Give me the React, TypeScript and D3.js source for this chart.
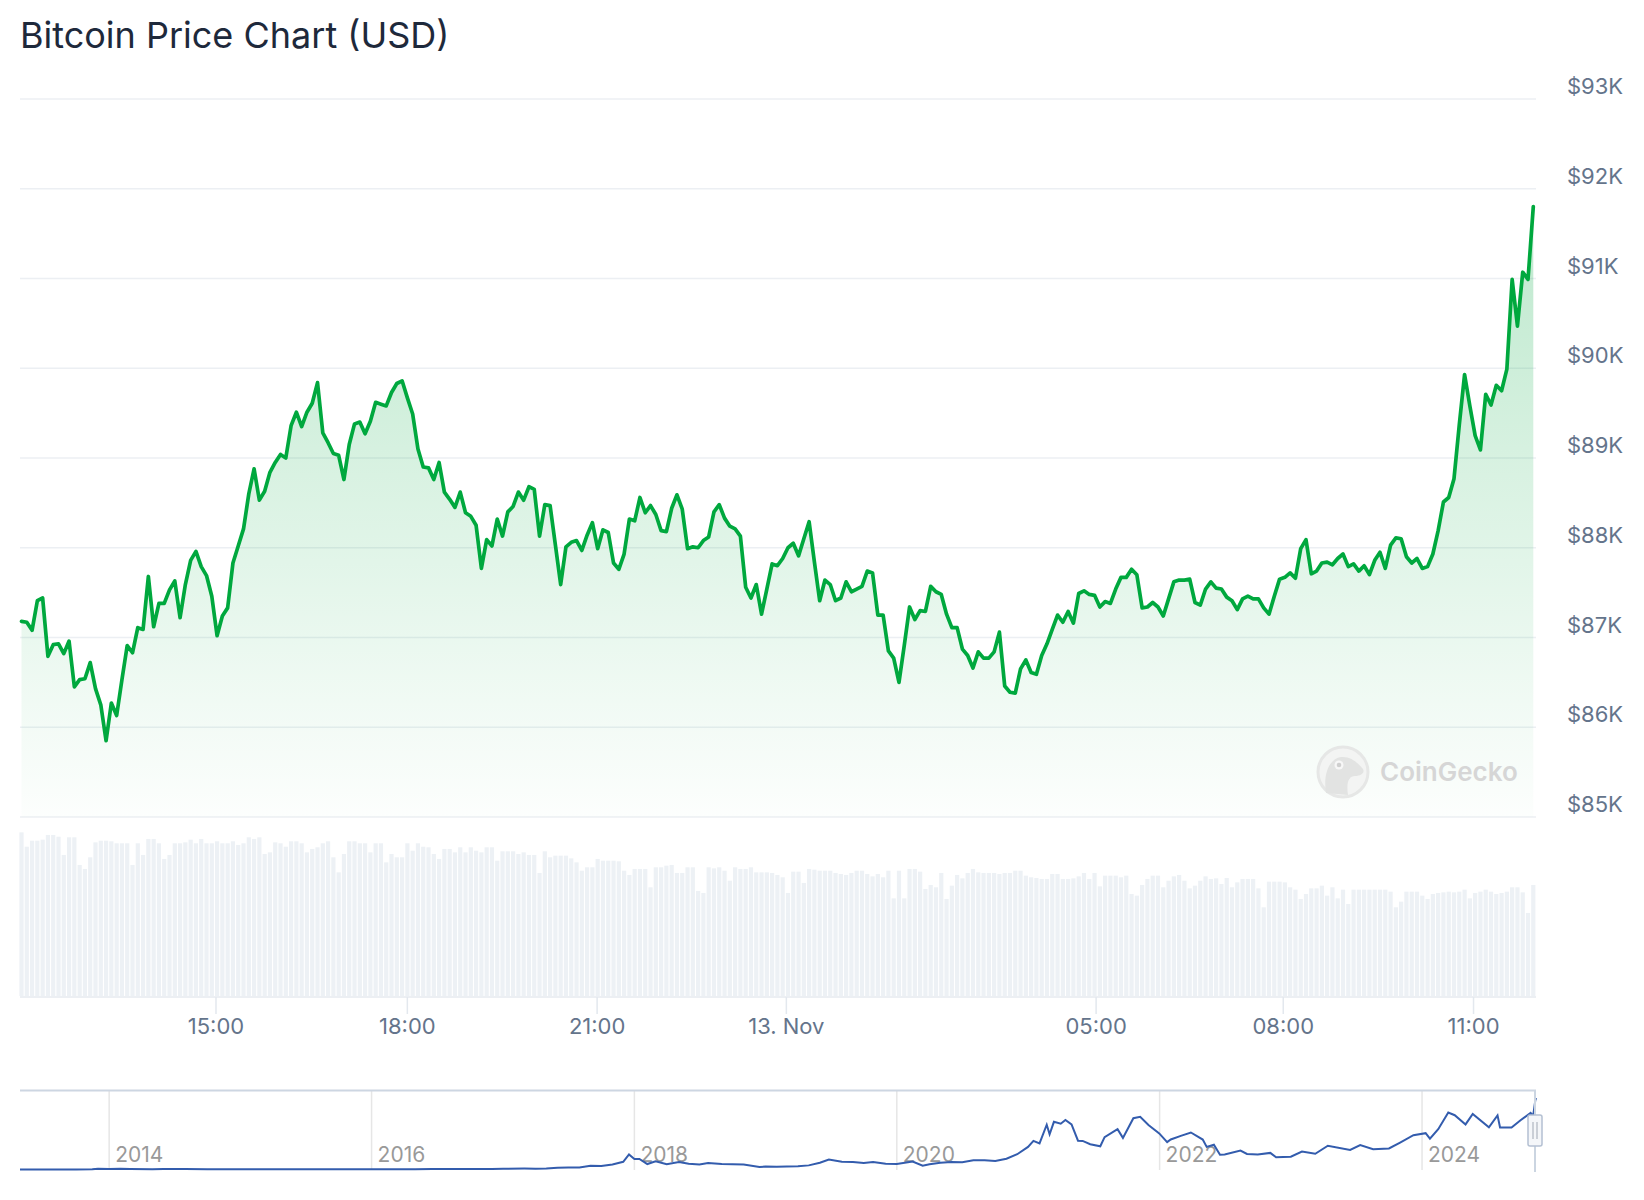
import React, { useRef, useEffect } from 'react';
import * as d3 from 'd3';

// BTC price in USD thousands, one point about every 5 minutes (12 Nov ~11:55 -> 13 Nov ~11:57)
const prices = [
  87.18, 87.17, 87.08, 87.41, 87.44, 86.79, 86.92, 86.93, 86.82, 86.96,
  86.45, 86.53, 86.54, 86.72, 86.43, 86.25, 85.85, 86.27, 86.13, 86.53,
  86.91, 86.83, 87.11, 87.09, 87.68, 87.12, 87.38, 87.38, 87.53, 87.63,
  87.22, 87.59, 87.86, 87.96, 87.79, 87.69, 87.46, 87.02, 87.24, 87.33,
  87.83, 88.02, 88.21, 88.60, 88.88, 88.53, 88.63, 88.84, 88.95, 89.04,
  89.00, 89.36, 89.51, 89.35, 89.51, 89.61, 89.84, 89.28, 89.17, 89.05,
  89.03, 88.76, 89.15, 89.38, 89.40, 89.27, 89.41, 89.62, 89.60, 89.58,
  89.73, 89.83, 89.86, 89.67, 89.49, 89.10, 88.90, 88.89, 88.76, 88.95,
  88.62, 88.54, 88.45, 88.62, 88.39, 88.35, 88.25, 87.77, 88.09, 88.02,
  88.32, 88.13, 88.40, 88.46, 88.62, 88.53, 88.68, 88.65, 88.13, 88.48,
  88.47, 88.03, 87.59, 88.01, 88.06, 88.08, 87.97, 88.14, 88.28, 87.99,
  88.20, 88.17, 87.83, 87.76, 87.93, 88.32, 88.30, 88.56, 88.39, 88.47,
  88.37, 88.19, 88.18, 88.44, 88.59, 88.43, 87.99, 88.01, 88.00, 88.08,
  88.12, 88.40, 88.48, 88.33, 88.24, 88.21, 88.13, 87.56, 87.44, 87.59,
  87.26, 87.54, 87.82, 87.80, 87.88, 88.00, 88.05, 87.91, 88.10, 88.29,
  87.84, 87.41, 87.64, 87.59, 87.41, 87.44, 87.62, 87.51, 87.54, 87.57,
  87.74, 87.72, 87.25, 87.25, 86.85, 86.77, 86.50, 86.91, 87.34, 87.20,
  87.30, 87.29, 87.57, 87.51, 87.48, 87.26, 87.11, 87.11, 86.87,
  86.80, 86.66, 86.84, 86.77, 86.77, 86.84, 87.06, 86.46, 86.39, 86.38,
  86.65, 86.75, 86.61, 86.59, 86.80, 86.93, 87.09, 87.25, 87.17, 87.29,
  87.16, 87.49, 87.52, 87.48, 87.47, 87.34, 87.40, 87.38, 87.54, 87.67,
  87.67, 87.76, 87.70, 87.33, 87.34, 87.39, 87.34, 87.24, 87.43, 87.62,
  87.64, 87.64, 87.65, 87.39, 87.36, 87.54, 87.62, 87.55, 87.54, 87.45,
  87.41, 87.31, 87.43, 87.46, 87.43, 87.43, 87.33, 87.26, 87.46, 87.65,
  87.67, 87.72, 87.66, 87.99, 88.09, 87.71, 87.74, 87.83, 87.84, 87.81,
  87.88, 87.93, 87.79, 87.82, 87.74, 87.80, 87.70, 87.86, 87.95, 87.77,
  88.03, 88.11, 88.10, 87.90, 87.83, 87.88, 87.77, 87.79, 87.93, 88.19,
  88.51, 88.56, 88.77,
  89.37, 89.93, 89.58, 89.25, 89.09, 89.71, 89.59, 89.81, 89.75, 89.99,
  90.99, 90.47, 91.07, 90.99, 91.80,
];

// 24h trading volume, USD billions, one bar per price point
const volumes = [
  139.1, 126.9, 132.0, 132.0, 132.9, 136.9, 136.9, 135.4, 119.9, 134.9,
  134.9, 111.4, 108.0, 117.9, 130.6, 132.0, 132.0, 131.5, 129.8, 129.8,
  129.8, 111.4, 129.8, 119.9, 133.5, 133.5, 129.8, 116.5, 119.9, 129.8,
  129.8, 130.6, 132.9, 129.8, 133.5, 129.8, 129.8, 131.5, 129.8, 129.8,
  131.5, 128.4, 129.8, 134.9, 133.5, 134.9, 120.7, 122.1, 130.6, 129.8,
  126.9, 131.5, 131.5, 129.8, 122.1, 125.0, 126.4, 129.8, 131.5, 117.9,
  105.1, 120.7, 131.5, 131.5, 129.8, 129.8, 122.1, 129.8, 129.8, 113.6,
  120.7, 117.9, 117.9, 129.8, 123.5, 129.8, 126.9, 126.4, 120.7, 116.5,
  125.0, 125.0, 122.1, 126.4, 122.1, 126.4, 123.5, 122.1, 126.4, 126.4,
  115.0, 123.0, 123.0, 123.0, 120.7, 122.1, 119.9, 119.9, 104.6, 123.0,
  117.9, 119.3, 119.3, 119.3, 117.0, 113.6, 106.5, 109.4, 109.4, 116.5,
  115.0, 115.0, 115.0, 114.5, 106.5, 102.9, 108.0, 108.0, 108.0, 92.4,
  109.4, 109.4, 110.8, 111.4, 104.6, 104.6, 109.4, 109.4, 89.3, 87.6,
  109.4, 108.5, 109.4, 106.5, 98.0, 109.4, 108.0, 108.0, 109.4, 105.1,
  105.1, 105.1, 104.6, 102.9, 100.9, 87.6, 105.7, 105.7, 96.1, 108.0,
  107.4, 106.5, 106.5,
  106.5, 104.6, 103.7, 102.9, 104.6, 106.5, 106.5, 103.7, 101.7, 103.7,
  100.9, 106.5, 83.0, 106.5, 83.0, 108.0, 108.0, 105.7, 91.0, 94.4,
  92.4, 104.6, 82.5, 93.8, 102.9, 100.0, 104.6, 108.0, 105.1, 104.6,
  104.6, 104.6, 103.7, 104.6, 104.6, 106.5, 106.5, 102.3, 100.9, 100.3,
  99.5, 99.5, 103.7, 103.7, 99.5, 99.5, 100.0, 101.7, 104.6, 99.5,
  104.6, 93.2, 102.3, 102.3, 102.3, 100.9, 102.3, 86.7, 85.3, 94.4,
  99.5, 102.3, 102.3, 92.4, 98.0, 101.7, 102.9, 98.0, 91.5, 93.8,
  98.0, 101.7, 99.5, 100.0, 95.2, 100.3, 92.4, 96.6, 99.5, 99.5,
  99.5, 91.5, 75.4, 97.2, 97.2, 97.2, 96.6, 92.4, 90.4, 82.5,
  86.7, 91.5, 91.5, 93.8, 85.3, 92.4, 83.0, 90.4, 78.2, 90.4,
  90.4, 90.4, 90.4, 90.4, 90.4, 90.4, 88.7, 75.4,
  80.2, 88.7, 88.7, 88.7, 85.3, 82.5, 86.7, 87.6, 88.1, 88.7,
  88.1, 88.7, 90.4, 83.0, 87.6, 88.7, 90.4, 88.7, 86.7, 87.6,
  88.7, 92.4, 92.4, 88.1, 70.6, 94.4,
];

// x axis labels and the (ordinal) point index they sit at
const xTickLabels = ['15:00', '18:00', '21:00', '13. Nov', '05:00', '08:00', '11:00'];
const xTickIndex = [36.7, 72.9, 108.8, 144.6, 203.2, 238.6, 274.6];
const yTicks = [85, 86, 87, 88, 89, 90, 91, 92, 93];

// navigator: full price history, USD thousands
const navDates = [
  '2013-04-28', '2013-06-01', '2013-08-01', '2013-10-01', '2013-11-15', '2013-12-01',
  '2014-01-01', '2014-02-01', '2014-03-01', '2014-05-01', '2014-06-01', '2014-08-01',
  '2014-10-01', '2014-12-01', '2015-01-15', '2015-03-01', '2015-06-01', '2015-07-15',
  '2015-09-01', '2015-11-05', '2016-01-01', '2016-03-01', '2016-05-01', '2016-06-17',
  '2016-08-01', '2016-10-01', '2016-12-01', '2017-01-01', '2017-03-01', '2017-04-01',
  '2017-05-01', '2017-06-01', '2017-07-01', '2017-08-01', '2017-09-01', '2017-10-01',
  '2017-11-01', '2017-12-01', '2017-12-17', '2018-01-01', '2018-01-15', '2018-02-06',
  '2018-03-01', '2018-04-01', '2018-05-05', '2018-06-01', '2018-07-01', '2018-07-25',
  '2018-09-01', '2018-10-01', '2018-11-01', '2018-12-15', '2019-01-01', '2019-02-01',
  '2019-03-01', '2019-04-01', '2019-05-01', '2019-06-01', '2019-06-26', '2019-08-01',
  '2019-09-01', '2019-10-01', '2019-10-27', '2019-12-01', '2020-01-01', '2020-02-14',
  '2020-03-13', '2020-04-01', '2020-05-01', '2020-06-01', '2020-07-01', '2020-08-01',
  '2020-09-01', '2020-10-01', '2020-11-01', '2020-12-01', '2020-12-31', '2021-01-15',
  '2021-02-01', '2021-02-21', '2021-03-01', '2021-03-13', '2021-04-01', '2021-04-14',
  '2021-05-01', '2021-05-19', '2021-06-01', '2021-06-22', '2021-07-20', '2021-08-01',
  '2021-09-06', '2021-09-21', '2021-10-20', '2021-11-08', '2021-12-01', '2021-12-31',
  '2022-01-22', '2022-02-01', '2022-03-01', '2022-03-29', '2022-05-01', '2022-05-12',
  '2022-06-01', '2022-06-18', '2022-07-01', '2022-08-14', '2022-09-01', '2022-10-01',
  '2022-11-05', '2022-11-21', '2023-01-01', '2023-02-01', '2023-03-10', '2023-04-14',
  '2023-06-15', '2023-07-13', '2023-08-18', '2023-10-01', '2023-11-01', '2023-12-08',
  '2024-01-11', '2024-01-23', '2024-02-15', '2024-03-14', '2024-04-01', '2024-05-01',
  '2024-05-21', '2024-07-05', '2024-07-29', '2024-08-05', '2024-09-06', '2024-10-01',
  '2024-10-29', '2024-11-05', '2024-11-11', '2024-11-13',
];
const navPrices = [
  0.13, 0.12, 0.10, 0.13, 0.42, 1.0,
  0.75, 0.83, 0.56, 0.45, 0.63, 0.59,
  0.39, 0.38, 0.20, 0.25, 0.23, 0.29,
  0.23, 0.40, 0.43, 0.43, 0.45, 0.76,
  0.62, 0.61, 0.75, 0.99, 1.19, 1.08,
  1.42, 2.40, 2.48, 2.71, 4.70, 4.40,
  6.40, 9.90, 19.3, 13.4, 13.6, 7.0,
  10.4, 6.9, 9.7, 7.5, 6.4, 8.2,
  7.0, 6.6, 6.3, 3.2, 3.7, 3.4,
  3.8, 4.1, 5.3, 8.6, 12.9, 10.0,
  9.6, 8.3, 9.5, 7.4, 7.2, 10.3,
  4.9, 6.6, 8.8, 9.5, 9.2, 11.8,
  11.9, 10.8, 13.8, 19.6, 29.0, 36.8,
  33.5, 57.5, 45.2, 61.2, 58.8, 63.5,
  57.8, 37.0, 36.7, 32.5, 29.8, 41.5,
  51.8, 40.6, 65.9, 67.6, 57.2, 46.3,
  35.1, 38.5, 43.2, 47.5, 38.5, 29.0,
  31.8, 19.0, 19.3, 24.4, 20.0, 19.4,
  21.3, 15.8, 16.5, 23.1, 20.2, 30.5,
  25.1, 31.4, 26.1, 27.0, 34.6, 44.0,
  46.6, 39.5, 51.8, 73.1, 69.7, 57.9,
  71.4, 54.2, 69.5, 53.9, 53.9, 63.3,
  72.7, 68.4, 88.7, 91.8,
];
const navYears = [2014, 2016, 2018, 2020, 2022, 2024];

function App() {
  const ref = useRef<SVGSVGElement>(null);

  useEffect(() => {
    document.body.style.margin = '0';
    const svg = d3.select(ref.current);
    svg.selectAll('*').remove();

    const left = 20, right = 1536;
    const priceTop = 99, priceBottom = 817;
    const volBottom = 997;

    // title
    svg.append('text')
      .attr('x', 20).attr('y', 48)
      .attr('font-size', 36)
      .attr('fill', '#1e293b')
      .text('Bitcoin Price Chart (USD)');

    const x = d3.scaleLinear().domain([0, prices.length - 1]).range([21.5, 1533.3]);
    const y = d3.scaleLinear().domain([85, 93]).range([priceBottom, priceTop]);
    const yv = d3.scaleLinear().domain([0, 140]).range([volBottom - 1, volBottom - 1 - 140 / 0.85]);

    // volume bars
    svg.append('g')
      .selectAll('rect')
      .data(volumes)
      .join('rect')
        .attr('x', (d, i) => x(i) - 2.1)
        .attr('width', 4.2)
        .attr('y', d => yv(d))
        .attr('height', d => yv(0) - yv(d))
        .attr('fill', '#edf1f5');

    // grid lines + price labels
    svg.append('g')
      .selectAll('line')
      .data(yTicks)
      .join('line')
        .attr('x1', left).attr('x2', right)
        .attr('y1', d => y(d)).attr('y2', d => y(d))
        .attr('stroke', '#eceff3')
        .attr('stroke-width', 1.5);

    svg.append('g')
      .selectAll('text')
      .data(yTicks)
      .join('text')
        .attr('x', 1567)
        .attr('y', d => y(d) - 5)
        .attr('font-size', 22)
        .attr('fill', '#64748b')
        .text(d => `$${d}K`);

    // area gradient
    const grad = svg.append('defs').append('linearGradient')
      .attr('id', 'areaGrad')
      .attr('x1', 0).attr('y1', 0).attr('x2', 0).attr('y2', 1);
    grad.append('stop').attr('offset', 0).attr('stop-color', '#00a83e').attr('stop-opacity', 0.26);
    grad.append('stop').attr('offset', 1).attr('stop-color', '#00a83e').attr('stop-opacity', 0.01);

    const area = d3.area<number>()
      .x((d, i) => x(i))
      .y0(y(85))
      .y1(d => y(d));
    const line = d3.line<number>()
      .x((d, i) => x(i))
      .y(d => y(d));

    svg.append('path')
      .datum(prices)
      .attr('d', area)
      .attr('fill', 'url(#areaGrad)');

    // watermark
    const wm = svg.append('g').attr('transform', 'translate(1343,772)');
    wm.append('circle').attr('r', 25).attr('fill', '#f3f4f3').attr('stroke', '#e6e7e6').attr('stroke-width', 3);
    wm.append('path')
      .attr('d', 'M -17 21 C -20 2 -14 -13 -2 -15 C 8 -16 15 -9 20 -3 C 22 1 18 4 12 4 C 6 4 3 10 5 23 Z')
      .attr('fill', '#e2e3e2');
    wm.append('circle').attr('cx', -4).attr('cy', -7).attr('r', 4.5).attr('fill', '#f7f7f7');
    wm.append('circle').attr('cx', -4).attr('cy', -7).attr('r', 2.3).attr('fill', '#cfcfcf');
    svg.append('text')
      .attr('x', 1380).attr('y', 781)
      .attr('font-size', 26)
      .attr('font-weight', 600)
      .attr('fill', '#d6d6d6')
      .text('CoinGecko');

    svg.append('path')
      .datum(prices)
      .attr('d', line)
      .attr('fill', 'none')
      .attr('stroke', '#00a83e')
      .attr('stroke-width', 3.7)
      .attr('stroke-linejoin', 'round')
      .attr('stroke-linecap', 'round');

    // x axis
    svg.append('line')
      .attr('x1', left).attr('x2', right)
      .attr('y1', volBottom).attr('y2', volBottom)
      .attr('stroke', '#e6eaef')
      .attr('stroke-width', 1.5);

    const xAxis = svg.append('g')
      .attr('transform', `translate(0,${volBottom})`)
      .call(d3.axisBottom(x)
        .tickValues(xTickIndex)
        .tickFormat((d, i) => xTickLabels[i])
        .tickSize(17)
        .tickPadding(4));
    xAxis.select('.domain').remove();
    xAxis.selectAll('.tick line').attr('stroke', '#e3e8ee').attr('stroke-width', 1.5);
    xAxis.selectAll('.tick text')
      .attr('fill', '#64748b')
      .attr('font-size', 22)
      .attr('font-family', 'Inter, sans-serif');

    // navigator
    const navTop = 1090.5, navBottom = 1170;
    const xn = d3.scaleUtc()
      .domain([new Date('2013-04-28'), new Date('2024-11-13')])
      .range([left, right]);
    const yn = d3.scaleLinear().domain([0, 91.8]).range([1169.5, 1098]);

    const nav = svg.append('g');
    nav.selectAll('line.year')
      .data(navYears)
      .join('line')
        .attr('class', 'year')
        .attr('x1', d => xn(new Date(Date.UTC(d, 0, 1))))
        .attr('x2', d => xn(new Date(Date.UTC(d, 0, 1))))
        .attr('y1', navTop).attr('y2', navBottom)
        .attr('stroke', '#e6e6e6')
        .attr('stroke-width', 1.5);
    nav.selectAll('text')
      .data(navYears)
      .join('text')
        .attr('x', d => xn(new Date(Date.UTC(d, 0, 1))) + 6)
        .attr('y', 1162)
        .attr('font-size', 21)
        .attr('fill', '#999999')
        .text(d => d);

    nav.append('line')
      .attr('x1', left).attr('x2', right)
      .attr('y1', navTop).attr('y2', navTop)
      .attr('stroke', '#cdd6e2')
      .attr('stroke-width', 2);

    const navLine = d3.line<number>()
      .x((d, i) => xn(new Date(navDates[i])))
      .y(d => yn(d));
    nav.append('path')
      .datum(navPrices)
      .attr('d', navLine)
      .attr('fill', 'none')
      .attr('stroke', '#335cad')
      .attr('stroke-width', 2);

    // selected-range edge and handle
    nav.append('line')
      .attr('x1', 1535).attr('x2', 1535)
      .attr('y1', navTop).attr('y2', 1172)
      .attr('stroke', '#cbd5e1')
      .attr('stroke-width', 2);
    nav.append('rect')
      .attr('x', 1528).attr('y', 1115)
      .attr('width', 14).attr('height', 31)
      .attr('rx', 2)
      .attr('fill', '#f4f6f9')
      .attr('stroke', '#b4c0d2')
      .attr('stroke-width', 1.5);
    [1533, 1537].forEach(hx => {
      nav.append('line')
        .attr('x1', hx).attr('x2', hx)
        .attr('y1', 1122).attr('y2', 1139)
        .attr('stroke', '#a0a8b4')
        .attr('stroke-width', 1);
    });
  }, []);

  return (
    <svg
      ref={ref}
      width={1644}
      height={1200}
      style={{ display: 'block', background: '#fff' }}
      fontFamily="Inter, 'Noto Sans', sans-serif"
    />
  );
}

export default App;
